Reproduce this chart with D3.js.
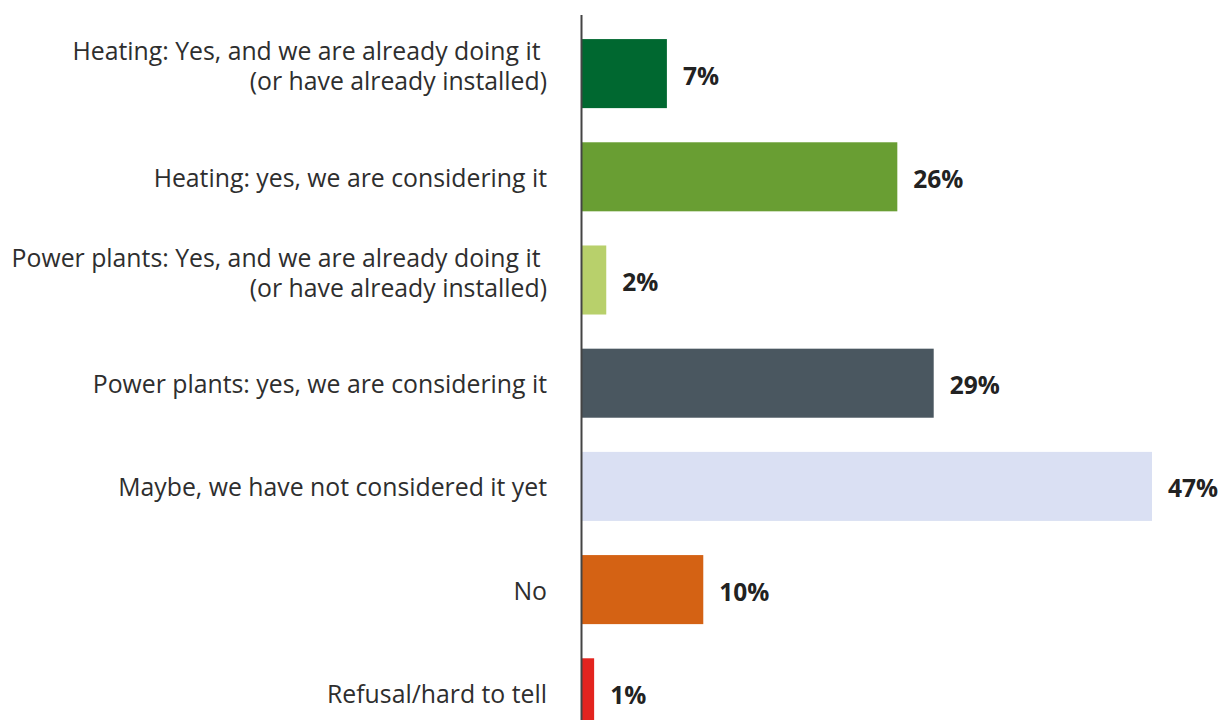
<!DOCTYPE html>
<html>
<head>
<meta charset="utf-8">
<script src="https://cdn.jsdelivr.net/npm/d3@7/dist/d3.min.js"></script>
<style>
  html, body { margin: 0; padding: 0; background: #fff; }
  svg { display: block; }
  text { font-family: "Open Sans", "Noto Sans", sans-serif; }
</style>
</head>
<body>
<svg id="chart" width="1220" height="720"></svg>
<script>
// Survey answers (each category may span several lines)
const categories = [
  ["Heating: Yes, and we are already doing it ", "(or have already installed)"],
  ["Heating: yes, we are considering it"],
  ["Power plants: Yes, and we are already doing it ", "(or have already installed)"],
  ["Power plants: yes, we are considering it"],
  ["Maybe, we have not considered it yet"],
  ["No"],
  ["Refusal/hard to tell"]
];
const values = [7, 26, 2, 29, 47, 10, 1];
const valueLabels = ["7%", "26%", "2%", "29%", "47%", "10%", "1%"];
const colors = ["#006830", "#699e33", "#b8d06b", "#4a5760", "#dae0f3", "#d46214", "#e3241f"];

const svg = d3.select("#chart");
const x0 = 582;

const x = d3.scaleLinear().domain([0, 47]).range([x0, 1152]);
const y = d3.scaleBand()
  .domain(d3.range(values.length))
  .range([22, 22 + 103.2 * values.length])
  .paddingInner(0.331)
  .paddingOuter(0.1655);

// Bars
svg.append("g").selectAll("rect")
  .data(values)
  .join("rect")
  .attr("x", x0)
  .attr("y", (d, i) => y(i))
  .attr("width", d => x(d) - x0)
  .attr("height", y.bandwidth())
  .attr("fill", (d, i) => colors[i]);

// Category axis line
svg.append("line")
  .attr("x1", x0 - 0.5).attr("x2", x0 - 0.5)
  .attr("y1", 15).attr("y2", 720)
  .attr("stroke", "#444").attr("stroke-width", 2);

// Category labels, right aligned against the axis
const labels = svg.append("g").selectAll("text")
  .data(categories)
  .join("text")
  .attr("x", 547)
  .attr("y", (d, i) => y(i) + y.bandwidth() / 2)
  .attr("text-anchor", "end")
  .attr("font-size", 24.8)
  .attr("fill", "#2e2e2e")
  .style("white-space", "pre");

labels.selectAll("tspan")
  .data(d => d.map((line, k) => ({ line, k, n: d.length })))
  .join("tspan")
  .attr("x", 547)
  .attr("dy", p => p.k === 0 ? (p.n > 1 ? "-0.53em" : "0.4em") : "1.21em")
  .text(p => p.line);

// Value labels at bar ends
svg.append("g").selectAll("text")
  .data(values)
  .join("text")
  .attr("x", d => x(d) + 16)
  .attr("y", (d, i) => y(i) + y.bandwidth() / 2)
  .attr("dy", "0.45em")
  .attr("font-size", 24.5)
  .attr("font-weight", "bold")
  .attr("fill", "#222")
  .text((d, i) => valueLabels[i]);
</script>
</body>
</html>
